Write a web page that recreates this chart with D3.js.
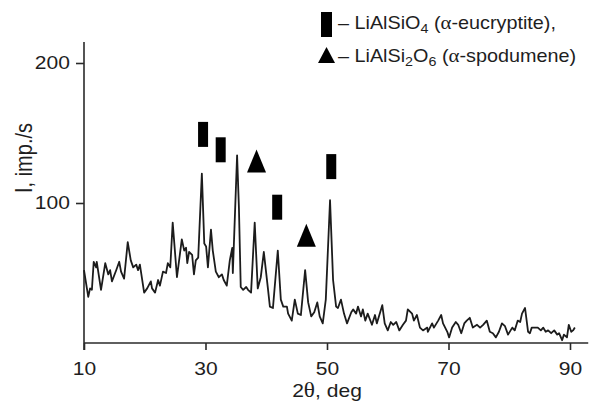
<!DOCTYPE html>
<html>
<head>
<meta charset="utf-8">
<script src="https://cdn.jsdelivr.net/npm/d3@7"></script>
<style>
  html, body { margin: 0; padding: 0; background: #fff; }
  svg { display: block; }
  text { font-family: "Liberation Sans", Arial, sans-serif; fill: #1e1e1e; }
</style>
</head>
<body>
<svg id="chart" width="590" height="403"></svg>
<script>
// 2θ (deg) positions of the trace
const twoTheta = [10.0,10.7,11.0,11.3,11.6,12.0,12.1,12.8,13.5,14.0,14.3,14.6,15.3,15.8,16.1,16.6,17.2,17.7,18.1,18.6,18.9,19.2,19.9,20.4,21.0,21.2,21.7,22.2,22.5,23.0,23.5,23.8,24.2,24.6,25.3,26.1,26.5,26.8,27.0,27.3,27.8,28.1,28.4,28.8,29.4,29.8,30.1,30.4,30.9,31.2,31.7,32.2,32.7,33.0,33.5,34.0,34.4,34.5,35.2,35.5,35.8,36.2,36.7,37.0,37.5,38.1,38.6,39.1,39.6,40.3,40.6,41.1,41.9,42.4,42.8,43.4,43.6,44.2,44.7,45.2,45.7,46.4,46.9,47.4,47.9,48.4,48.8,49.3,49.8,50.5,51.0,51.5,51.8,52.3,52.8,53.3,54.0,54.3,54.8,55.1,55.6,55.9,56.3,56.7,57.4,57.9,58.2,59.1,59.5,60.0,60.5,60.9,61.4,61.9,62.5,63.0,63.3,64.0,64.3,64.8,65.3,65.8,66.5,66.6,67.3,67.6,68.3,68.8,69.1,69.8,70.1,70.6,71.2,71.6,72.1,72.6,73.0,73.5,74.0,74.7,75.2,75.7,76.3,76.8,77.3,77.8,78.3,78.8,79.3,79.8,80.5,80.9,81.4,81.8,82.1,82.6,83.1,83.4,83.7,84.2,84.7,85.2,85.6,86.0,86.4,86.9,87.4,87.9,88.2,88.7,89.0,89.5,89.8,90.2,90.5,90.8];
// Intensity (imp./s)
const intensity = [52,33,39,38,58,54,58,38,57,49,52,44,52,58,51,46,72,59,54,56,52,56,36,39,44,39,36,45,41,51,50,57,54,86,47,74,66,68,57,65,63,49,59,61,121,71,69,54,81,66,51,47,49,45,41,59,68,50,134,97,40,38,40,38,36,86,39,47,65,38,26,25,66,31,26,26,21,16,31,21,20,52,29,19,22,29,19,14,31,102,45,26,25,31,21,14,22,24,21,26,19,24,16,21,13,20,14,27,14,9,15,13,15,9,13,16,24,21,16,20,11,9,11,8,14,11,16,20,14,8,4,11,15,13,7,14,16,18,11,13,11,13,16,8,7,4,8,14,12,6,11,9,16,15,21,25,8,7,11,11,11,9,11,8,9,7,9,6,7,2,6,4,13,8,9,11];

// Phase markers
const eucryptiteX = [29.6, 32.5, 41.8, 50.7];
const eucryptiteY = [149, 138, 97, 126];
const spodumeneX = [38.4, 46.6];
const spodumeneY = [130, 77];

// Axis ticks
const xTicks = [10, 30, 50, 70, 90];
const yTicks = [100, 200];

const svg = d3.select("#chart");
const x = d3.scaleLinear().domain([10, 90]).range([84, 570]);
const y = d3.scaleLinear().domain([0, 200]).range([343, 63]);

const axisColor = "#2a2a2a";
const stretch = 1.17;

// Axes
const gx = svg.append("g").attr("transform", `translate(0,${y(0)})`)
  .call(d3.axisBottom(x).tickValues(xTicks).tickSize(7).tickSizeOuter(0).tickPadding(12));
gx.select(".domain").remove();
gx.selectAll(".tick line").attr("stroke", axisColor).attr("stroke-width", 1.6);
gx.selectAll(".tick text").style("font-size", "18px").attr("fill", "#1e1e1e")
  .attr("transform", `scale(${stretch},1)`)
  .style("font-family", "'Liberation Sans', Arial, sans-serif");

const gy = svg.append("g").attr("transform", `translate(${x(10)},0)`)
  .call(d3.axisLeft(y).tickValues(yTicks).tickSize(8).tickSizeOuter(0).tickPadding(4));
gy.select(".domain").remove();
gy.selectAll(".tick line").attr("stroke", axisColor).attr("stroke-width", 1.6);
gy.selectAll(".tick text").style("font-size", "18px").attr("fill", "#1e1e1e")
  .attr("transform", `scale(${stretch},1)`)
  .style("font-family", "'Liberation Sans', Arial, sans-serif");

// axis lines
svg.append("line").attr("x1", x(10)).attr("x2", x(93)).attr("y1", y(0)).attr("y2", y(0))
  .attr("stroke", axisColor).attr("stroke-width", 1.6);
svg.append("line").attr("x1", x(10)).attr("x2", x(10)).attr("y1", y(215)).attr("y2", y(0) + 7)
  .attr("stroke", axisColor).attr("stroke-width", 1.6);

// Trace
const pts = twoTheta.map((t, i) => [t, intensity[i]]);
svg.append("path").datum(pts)
  .attr("fill", "none").attr("stroke", "#1c1c1c").attr("stroke-width", 1.8)
  .attr("stroke-linejoin", "round")
  .attr("d", d3.line().x(d => x(d[0])).y(d => y(d[1])));

// Markers
const rectW = 10, rectH = 25, triW = 19, triH = 23;
svg.append("g").selectAll("rect").data(eucryptiteX.map((t, i) => [t, eucryptiteY[i]]))
  .join("rect")
  .attr("x", d => x(d[0]) - rectW / 2).attr("y", d => y(d[1]) - rectH / 2)
  .attr("width", rectW).attr("height", rectH).attr("fill", "#000");
svg.append("g").selectAll("path").data(spodumeneX.map((t, i) => [t, spodumeneY[i]]))
  .join("path")
  .attr("transform", d => `translate(${x(d[0])},${y(d[1])})`)
  .attr("d", `M0,${-triH / 2}L${triW / 2},${triH / 2}L${-triW / 2},${triH / 2}Z`)
  .attr("fill", "#000");

// Legend
const lg = svg.append("g");
lg.append("rect").attr("x", 321).attr("y", 12).attr("width", 11).attr("height", 25).attr("fill", "#000");
lg.append("path").attr("d", "M326.5,47L335,63L318,63Z").attr("fill", "#000");
const t1 = lg.append("text").attr("transform", "translate(338,29) scale(1.1,1)").style("font-size", "18px");
t1.append("tspan").text("– LiAlSiO");
t1.append("tspan").attr("dy", 4).style("font-size", "13px").text("4");
t1.append("tspan").attr("dy", -4).text(" (");
t1.append("tspan").style("font-family", "'Liberation Serif', serif").style("font-size", "19px").text("α");
t1.append("tspan").text("-eucryptite),");
const t2 = lg.append("text").attr("transform", "translate(338,62) scale(1.1,1)").style("font-size", "18px");
t2.append("tspan").text("– LiAlSi");
t2.append("tspan").attr("dy", 4).style("font-size", "13px").text("2");
t2.append("tspan").attr("dy", -4).text("O");
t2.append("tspan").attr("dy", 4).style("font-size", "13px").text("6");
t2.append("tspan").attr("dy", -4).text(" (");
t2.append("tspan").style("font-family", "'Liberation Serif', serif").style("font-size", "19px").text("α");
t2.append("tspan").text("-spodumene)");

// Axis titles
const xt = svg.append("text").attr("transform", `translate(${x(50)},397) scale(${stretch},1)`)
  .attr("text-anchor", "middle").style("font-size", "18px");
xt.append("tspan").text("2");
xt.append("tspan").style("font-family", "'Liberation Serif', serif").style("font-size", "20px").text("θ");
xt.append("tspan").text(", deg");
svg.append("text").attr("transform", `translate(32,158) scale(${stretch},1) rotate(-90)`)
  .attr("text-anchor", "middle").style("font-size", "20px").text("I, imp./s");
</script>
</body>
</html>
